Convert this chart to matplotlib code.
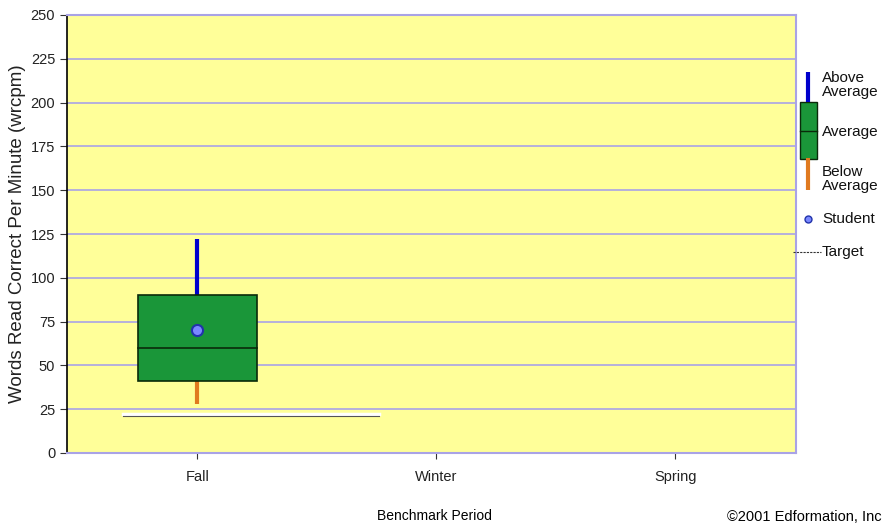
import matplotlib.pyplot as plt
import matplotlib.patches as mpatches

plt.rcParams['font.family'] = ['Liberation Sans', 'DejaVu Sans']

# Benchmark data
periods = ['Fall', 'Winter', 'Spring']
box_low = [41]
box_high = [90]
box_median = [60]
whisker_low = [28]
whisker_high = [122]
student = [70]
target = [22]
yticks = [0, 25, 50, 75, 100, 125, 150, 175, 200, 225, 250]

green = '#1a9639'
blue = '#0000cc'
orange = '#e07a1f'
grid = '#a9a3e6'
bg = '#ffff99'

fig = plt.figure(figsize=(8.88, 5.25), dpi=100)
ax = fig.add_axes([67 / 888, 72 / 525, 729 / 888, 438 / 525])
ax.set_facecolor(bg)

x = list(range(len(periods)))
for i in range(len(box_low)):
    ax.plot([x[i], x[i]], [box_high[i], whisker_high[i]], color=blue, lw=3, solid_capstyle='butt', zorder=3)
    ax.plot([x[i], x[i]], [whisker_low[i], box_low[i]], color=orange, lw=3, solid_capstyle='butt', zorder=3)
    ax.add_patch(mpatches.Rectangle((x[i] - 0.25, box_low[i]), 0.5, box_high[i] - box_low[i],
                                    facecolor=green, edgecolor='#0a2a0a', lw=1.2, zorder=4))
    ax.plot([x[i] - 0.25, x[i] + 0.25], [box_median[i]] * 2, color='#0a2a0a', lw=1.2, zorder=5)
    ax.plot(x[i], student[i], 'o', ms=8, mfc='#7a88ff', mec='#2233aa', mew=1.5, zorder=6)
    ax.plot([x[i] - 0.31, x[i] + 0.76], [target[i]] * 2, color='white', lw=2.5, zorder=2)
    ax.plot([x[i] - 0.31, x[i] + 0.76], [target[i] - 0.8] * 2, color='#555555', lw=0.8, zorder=2)

ax.set_xlim(-0.545, 2.505)
ax.set_ylim(0, 250)
ax.set_xticks(x)
ax.set_xticklabels(periods, fontsize=10.5)
ax.set_yticks(yticks)
ax.tick_params(axis='y', labelsize=10.5, length=5, color='#333333', labelcolor='#222222')
ax.tick_params(axis='x', length=4, color='#333333', pad=8, labelcolor='#222222')
ax.grid(axis='y', color=grid, lw=1.2)
ax.set_axisbelow(True)
for s in ['top', 'right', 'bottom']:
    ax.spines[s].set_color(grid)
    ax.spines[s].set_linewidth(1.5)
ax.spines['left'].set_color('black')
ax.spines['left'].set_linewidth(1.2)
ax.set_ylabel('Words Read Correct Per Minute (wrcpm)', fontsize=13.5, color='#222222')
ax.yaxis.set_label_coords(-41 / 729, 0.5)

fig.text(434 / 888, 1 - 516 / 525, 'Benchmark Period', ha='center', va='center', fontsize=10)
fig.text(727 / 888, 1 - 517 / 525, '\u00a92001 Edformation, Inc', ha='left', va='center', fontsize=10.5)

# legend drawn in pixel coordinates
lg = fig.add_axes([0, 0, 1, 1], zorder=10)
lg.set_xlim(0, 888)
lg.set_ylim(525, 0)
lg.axis('off')
lg.plot([808, 808], [72, 102], color=blue, lw=3, solid_capstyle='butt')
lg.plot([808, 808], [158, 190], color=orange, lw=3, solid_capstyle='butt')
lg.add_patch(mpatches.Rectangle((800, 102), 17, 57, facecolor=green, edgecolor='#0a2a0a', lw=1))
lg.plot([800, 817], [131, 131], color='#0a2a0a', lw=1)
lg.plot(808, 219, 'o', ms=5, mfc='#7a88ff', mec='#2233aa', mew=1)
lg.plot([793, 821], [252, 252], color='#333333', lw=0.8, ls=(0, (2, 1)))
kw = dict(fontsize=11, va='center', ha='left', color='#111111')
lg.text(822, 85, 'Above\nAverage', linespacing=0.95, **kw)
lg.text(822, 132, 'Average', **kw)
lg.text(822, 179, 'Below\nAverage', linespacing=0.95, **kw)
lg.text(822, 219, 'Student', **kw)
lg.text(822, 252, 'Target', **kw)

plt.savefig('out.png', dpi=100)
